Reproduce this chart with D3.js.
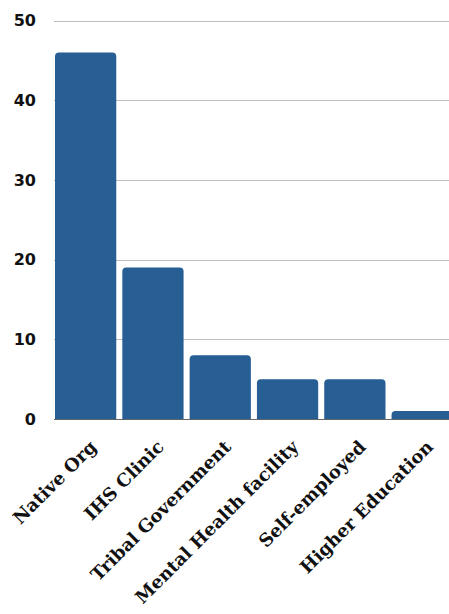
<!DOCTYPE html>
<html>
<head>
<meta charset="utf-8">
<script src="https://cdn.jsdelivr.net/npm/d3@7"></script>
<style>
  html, body { margin: 0; padding: 0; background: #fff; }
  svg { display: block; }
  .ytick text { font-family: "DejaVu Sans", sans-serif; font-weight: bold; font-size: 16px; fill: #111; }
  .xlab { font-family: "DejaVu Serif", serif; font-weight: bold; font-size: 18px; fill: #111; }
</style>
</head>
<body>
<script>
// Workplace categories and respondent counts
const categories = ["Native Org", "IHS Clinic", "Tribal Government", "Mental Health facility", "Self-employed", "Higher Education"];
const counts = [46, 19, 8, 5, 5, 1];
const yTicks = [0, 10, 20, 30, 40, 50];

const W = 449, H = 614;
const left = 54, baseY = 419, topY = 20.5;

const svg = d3.select("body").append("svg").attr("width", W).attr("height", H);

const x = d3.scaleBand().domain(categories).range([left, 453.8]).paddingInner(0.09).paddingOuter(0.015);
const y = d3.scaleLinear().domain([0, 50]).range([baseY, topY]);

// Horizontal gridlines
svg.append("g").selectAll("line").data(yTicks.filter(d => d > 0)).join("line")
  .attr("x1", left).attr("x2", W)
  .attr("y1", d => Math.round(y(d)) + 0.5).attr("y2", d => Math.round(y(d)) + 0.5)
  .attr("stroke", "#bdbdbd").attr("stroke-width", 1);

// Y axis labels
const yAxis = svg.append("g").attr("class", "ytick");
yAxis.selectAll("text").data(yTicks).join("text")
  .attr("x", 36).attr("y", d => y(d)).attr("dy", "0.35em")
  .attr("text-anchor", "end").text(d => d);

// Bars with rounded top corners
const r = 4;
function barPath(d, i) {
  const x0 = x(categories[i]), w = x.bandwidth();
  const yt = y(d), yb = y(0);
  const rr = Math.min(r, (yb - yt));
  return `M${x0},${yb}V${yt + rr}Q${x0},${yt} ${x0 + rr},${yt}H${x0 + w - rr}Q${x0 + w},${yt} ${x0 + w},${yt + rr}V${yb}Z`;
}
svg.append("g").selectAll("path").data(counts).join("path")
  .attr("d", barPath).attr("fill", "#275e93");

// Baseline
svg.append("line").attr("x1", left).attr("x2", W)
  .attr("y1", baseY + 0.5).attr("y2", baseY + 0.5)
  .attr("stroke", "#666").attr("stroke-width", 1);

// Rotated category labels
svg.append("g").selectAll("text").data(categories).join("text")
  .attr("class", "xlab")
  .attr("text-anchor", "end")
  .attr("transform", d => `translate(${x(d) + x.bandwidth() / 2 + 12},${baseY + 29}) rotate(-45)`)
  .text(d => d);
</script>
</body>
</html>
